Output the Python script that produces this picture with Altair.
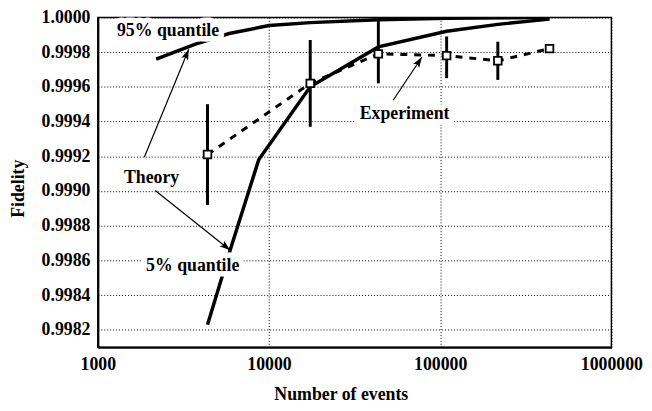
import altair as alt
import pandas as pd

# ---- data ----
n_exp = [4370, 17400, 43500, 109000, 217000, 435000]
f_exp = [0.99921, 0.99962, 0.99979, 0.99978, 0.99975, 0.99982]
err_lo = [0.99892, 0.99937, 0.99962, 0.99965, 0.99964, None]
err_hi = [0.99950, 0.99987, 1.00000, 0.99989, 0.99986, None]

n_q5 = [4370, 5930, 8700, 17400, 43500, 109000, 217000, 435000]
f_q5 = [0.99823, 0.99866, 0.99918, 0.99960, 0.99983, 0.99992, 0.99996, 0.99999]

n_q95 = [2190, 3680, 5850, 10000, 17400, 43500, 109000, 435000]
f_q95 = [0.99976, 0.999845, 0.999907, 0.999953, 0.99997, 0.999986, 0.999995, 0.999999]

label_text = ["95% quantile", "Theory", "5% quantile", "Experiment"]
label_x = [2570, 2060, 3580, 61900]
label_y = [0.999919, 0.999077, 0.998568, 0.999444]

arrow_x = [1867, 2163, 53100]
arrow_y = [0.999195, 0.999003, 0.999523]
arrow_x2 = [3396, 5930, 78200]
arrow_y2 = [0.999817, 0.998659, 0.999772]
arrow_angle = [22, 129, 33]

x_ticks = [1000, 10000, 100000, 1000000]
y_ticks = [0.9982, 0.9984, 0.9986, 0.9988, 0.9990, 0.9992, 0.9994, 0.9996, 0.9998, 1.0000]

FONT = "Liberation Serif"

exp_df = pd.DataFrame({"n": n_exp, "f": f_exp, "lo": err_lo, "hi": err_hi})
q5_df = pd.DataFrame({"n": n_q5, "f": f_q5})
q95_df = pd.DataFrame({"n": n_q95, "f": f_q95})
lab_df = pd.DataFrame({"text": label_text, "n": label_x, "f": label_y})
arr_df = pd.DataFrame({"n": arrow_x, "f": arrow_y, "n2": arrow_x2, "f2": arrow_y2, "ang": arrow_angle})

xs = alt.Scale(type="log", domain=[1000, 1000000], nice=False)
ys = alt.Scale(domain=[0.9981, 1.0000], nice=False, zero=False)

xaxis = alt.Axis(values=x_ticks, tickCount=len(x_ticks), format="d", title="Number of events",
                 grid=True, gridDash=[1, 2], gridColor="#000", gridOpacity=1, gridWidth=1,
                 ticks=False, tickSize=0,
                 labelPadding=9, labelFontSize=18, labelFont=FONT, labelFontWeight="bold",
                 labelColor="#000", titleFont=FONT, titleFontSize=18, titleFontWeight="bold",
                 titleColor="#000", titleX=246, titleY=53, titleBaseline="alphabetic",
                 domainColor="#000", domainWidth=2, labelFlush=False, labelOverlap=False)
yaxis = alt.Axis(values=y_ticks, tickCount=len(y_ticks), format=".4f", title="Fidelity",
                 grid=True, gridDash=[1, 2], gridColor="#000", gridOpacity=1, gridWidth=1,
                 ticks=False, tickSize=0,
                 labelPadding=8, labelFontSize=18, labelFont=FONT, labelFontWeight="bold",
                 labelColor="#000", titleFont=FONT, titleFontSize=18, titleFontWeight="bold",
                 titleColor="#000", titleX=-75, titleY=173, titleBaseline="alphabetic",
                 titleAngle=270, domainColor="#000", domainWidth=2, labelFlush=False,
                 labelOverlap=False)

X = alt.X("n:Q", scale=xs, axis=xaxis)
Y = alt.Y("f:Q", scale=ys, axis=yaxis)

q95 = alt.Chart(q95_df).mark_line(color="black", strokeWidth=3.5, clip=True).encode(
    x=X, y=Y, order="n:Q")
q5 = alt.Chart(q5_df).mark_line(color="black", strokeWidth=3.5, clip=True).encode(
    x=alt.X("n:Q", scale=xs), y=alt.Y("f:Q", scale=ys), order="n:Q")

err = alt.Chart(exp_df).transform_filter("datum.lo != null").mark_rule(
    color="black", strokeWidth=3).encode(
    x=alt.X("n:Q", scale=xs), y=alt.Y("lo:Q", scale=ys), y2="hi:Q")

exp_line = alt.Chart(exp_df).mark_line(color="black", strokeWidth=3, strokeDash=[7, 7]).encode(
    x=alt.X("n:Q", scale=xs), y=alt.Y("f:Q", scale=ys), order="n:Q")

squares = alt.Chart(exp_df).mark_point(shape="square", filled=True, fill="white",
                                       stroke="black", strokeWidth=1.8, size=60,
                                       opacity=1).encode(
    x=alt.X("n:Q", scale=xs), y=alt.Y("f:Q", scale=ys))

arrows = alt.Chart(arr_df).mark_rule(color="black", strokeWidth=1.2).encode(
    x=alt.X("n:Q", scale=xs), y=alt.Y("f:Q", scale=ys), x2="n2:Q", y2="f2:Q")

heads = alt.Chart(arr_df).mark_point(shape="M0,0L-0.45,1.35L0,1.05L0.45,1.35Z", filled=True,
                                     color="black", size=260, opacity=1).encode(
    x=alt.X("n2:Q", scale=xs), y=alt.Y("f2:Q", scale=ys),
    angle=alt.Angle("ang:Q", scale=None))

halo = alt.Chart(lab_df).transform_filter("datum.text != 'Theory'").mark_text(
    font=FONT, fontSize=18, fontWeight="bold", fill="white", stroke="white",
    strokeWidth=11, strokeJoin="round", baseline="middle", align="center").encode(
    x=alt.X("n:Q", scale=xs), y=alt.Y("f:Q", scale=ys), text="text:N")

labels = alt.Chart(lab_df).mark_text(
    font=FONT, fontSize=18, fontWeight="bold", color="black",
    baseline="middle", align="center").encode(
    x=alt.X("n:Q", scale=xs), y=alt.Y("f:Q", scale=ys), text="text:N")

chart = alt.layer(q95, q5, err, exp_line, squares, arrows, heads, halo, labels).properties(
    width=520, height=334,
    autosize=alt.AutoSizeParams(type="none"),
    padding={"left": 91, "top": 7, "right": 33, "bottom": 60},
    background="white",
).configure_view(stroke="black", strokeWidth=1.5)

chart.save("out.html", embed_options={"renderer": "svg", "actions": False})
